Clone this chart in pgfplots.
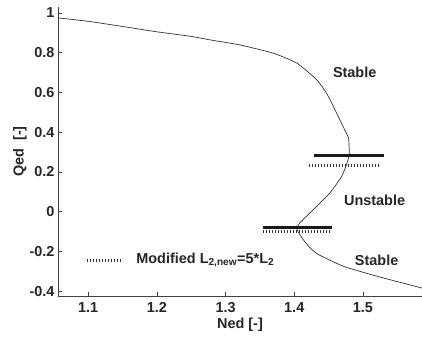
\documentclass[border=0pt]{standalone}
\usepackage{pgfplots}
\pgfplotsset{compat=1.18}
\usepackage{fontspec}
\setmainfont{Liberation Sans}
\begin{document}
\begin{tikzpicture}
\begin{axis}[name=ax,
  scale only axis, width=364bp, height=289bp,
  xmin=1.056, xmax=1.586, ymin=-0.425, ymax=1.03,
  axis x line*=bottom, axis y line*=left,
  axis line style={color=black!75, line width=0.8bp},
  xtick={1.1,1.2,1.3,1.4,1.5},
  ytick={-0.4,-0.2,0,0.2,0.4,0.6,0.8,1},
  yticklabels={-0.4,-0.2,0,0.2,0.4,0.6,0.8,1},
  xticklabels={1.1,1.2,1.3,1.4,1.5},
  tick align=inside, major tick length=4bp,
  tick style={black!75, line width=0.6bp},
  every tick label/.append style={font=\fontsize{14.5}{16}\selectfont\bfseries, text=black!85},
  xticklabel style={yshift=-3bp},
  xlabel={Ned [-]}, ylabel={Qed\ \ [-]},
  every axis label/.append style={font=\fontsize{14.5}{16}\selectfont\bfseries, text=black!85},
  xlabel style={yshift=2bp},
  ylabel style={yshift=-4bp},
  /pgf/number format/assume math mode=true,
  clip=false,
]
\addplot[black!80, line width=0.7bp, smooth, tension=0.3] coordinates {
(1.056,0.975) (1.10,0.958) (1.15,0.932) (1.20,0.905) (1.25,0.882) (1.278,0.864)
(1.321,0.839) (1.370,0.797) (1.404,0.747) (1.433,0.663) (1.447,0.596) (1.457,0.529)
(1.471,0.429) (1.479,0.37) (1.480,0.286) (1.476,0.236) (1.469,0.177) (1.452,0.094)
(1.428,0.010) (1.408,-0.057) (1.404,-0.090) (1.413,-0.141) (1.423,-0.182) (1.435,-0.216)
(1.472,-0.276) (1.522,-0.327) (1.586,-0.385)};
% thick bars
\addplot[black!90, line width=3bp] coordinates {(1.429,0.28) (1.531,0.28)};
\addplot[black!90, line width=3bp] coordinates {(1.355,-0.08) (1.455,-0.08)};
% dotted modified bars
\addplot[black!80, line width=3bp, dash pattern=on 0.8bp off 2.2bp] coordinates {(1.421,0.23) (1.522,0.23)};
\addplot[black!80, line width=3bp, dash pattern=on 0.8bp off 2.2bp] coordinates {(1.355,-0.10) (1.455,-0.10)};
\addplot[black!80, line width=3bp, dash pattern=on 0.8bp off 2.2bp] coordinates {(1.098,-0.246) (1.149,-0.246)};
\node[font=\fontsize{14.5}{16}\selectfont\bfseries, text=black!85, anchor=west] at (axis cs:1.165,-0.246) {Modified L\textsubscript{2,new}=5*L\textsubscript{2}};
\node[font=\fontsize{14.5}{16}\selectfont\bfseries, text=black!85] at (axis cs:1.488,0.70) {Stable};
\node[font=\fontsize{14.5}{16}\selectfont\bfseries, text=black!85] at (axis cs:1.517,0.055) {Unstable};
\node[font=\fontsize{14.5}{16}\selectfont\bfseries, text=black!85] at (axis cs:1.52,-0.246) {Stable};
\end{axis}
\pgfresetboundingbox
\path ([xshift=-58bp,yshift=-41bp]ax.south west) rectangle ([yshift=7bp]ax.north east);
\end{tikzpicture}
\end{document}
